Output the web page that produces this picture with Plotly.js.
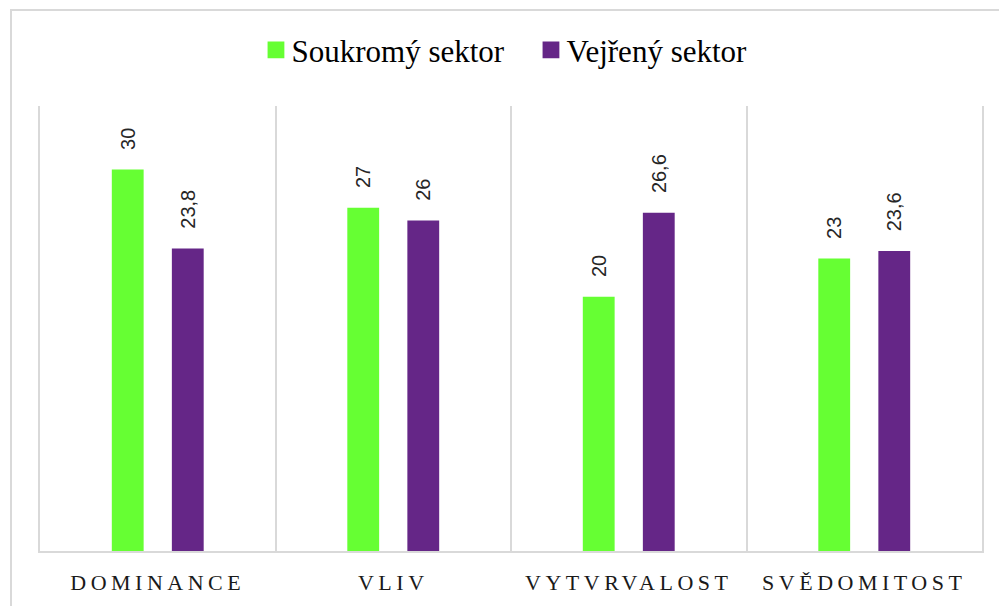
<!DOCTYPE html>
<html>
<head>
<meta charset="utf-8">
<script src="https://cdn.plot.ly/plotly-3.0.1.min.js"></script>
<style>
  html, body { margin: 0; padding: 0; background: #ffffff; overflow: hidden; }
  #frame { position: absolute; left: 10px; top: 9px; width: 2000px; height: 2000px;
           border: 2px solid #d9d9d9; box-sizing: border-box; }
  #chart { position: absolute; left: 0; top: 0; width: 999px; height: 606px; }
  #chart .xtick text { letter-spacing: 4.5px; }
  #chart .legend .legendpoints path { transform: translate(24.5px, 0px) scale(1.4); }
</style>
</head>
<body>
<div id="frame"></div>
<div id="chart"></div>
<script>
const categories = ["DOMINANCE", "VLIV", "VYTVRVALOST", "SVĚDOMITOST"];
const seriesNames = ["Soukromý sektor", "Vejřený sektor"];
const soukromy = [30, 27, 20, 23];
const vejreny = [23.8, 26, 26.6, 23.6];
const seriesColors = ["#66ff33", "#652687"];

const fmt = v => "\u00a0\u00a0\u00a0" + String(v).replace(".", ",");

const mkTrace = (name, vals, color) => ({
  type: "bar",
  name: name,
  x: categories,
  y: vals,
  text: vals.map(fmt),
  textposition: "outside",
  textangle: -90,
  constraintext: "none",
  cliponaxis: false,
  textfont: { family: "Liberation Sans, Arial, sans-serif", size: 20, color: "#262626" },
  marker: { color: color },
  hoverinfo: "x+y"
});

const data = [
  mkTrace(seriesNames[0], soukromy, seriesColors[0]),
  mkTrace(seriesNames[1], vejreny, seriesColors[1])
];

const lineCol = "#d9d9d9";

const layout = {
  width: 999,
  height: 606,
  margin: { l: 40, r: 17, t: 106, b: 55 },
  paper_bgcolor: "rgba(0,0,0,0)",
  plot_bgcolor: "rgba(0,0,0,0)",
  barmode: "group",
  bargap: 0.49,
  bargroupgap: 0.47,
  showlegend: true,
  legend: {
    orientation: "h",
    xref: "container",
    yref: "container",
    x: 0.527,
    xanchor: "center",
    y: 0.917,
    yanchor: "middle",
    entrywidth: 230,
    entrywidthmode: "pixels",
    font: { family: "Liberation Serif, Times New Roman, serif", size: 31, color: "#000000" },
    bgcolor: "rgba(0,0,0,0)"
  },
  xaxis: {
    type: "category",
    tickson: "boundaries",
    showgrid: true,
    gridcolor: lineCol,
    gridwidth: 2,
    showline: true,
    linecolor: lineCol,
    linewidth: 2,
    ticks: "",
    ticklabelstandoff: 11,
    tickfont: { family: "Liberation Serif, Times New Roman, serif", size: 22, color: "#1a1a1a" },
    fixedrange: true
  },
  yaxis: {
    range: [0, 35],
    showgrid: false,
    zeroline: false,
    showticklabels: false,
    ticks: "",
    showline: true,
    mirror: true,
    linecolor: lineCol,
    linewidth: 2,
    fixedrange: true
  }
};

Plotly.newPlot("chart", data, layout, { displayModeBar: false, staticPlot: true });
</script>
</body>
</html>
